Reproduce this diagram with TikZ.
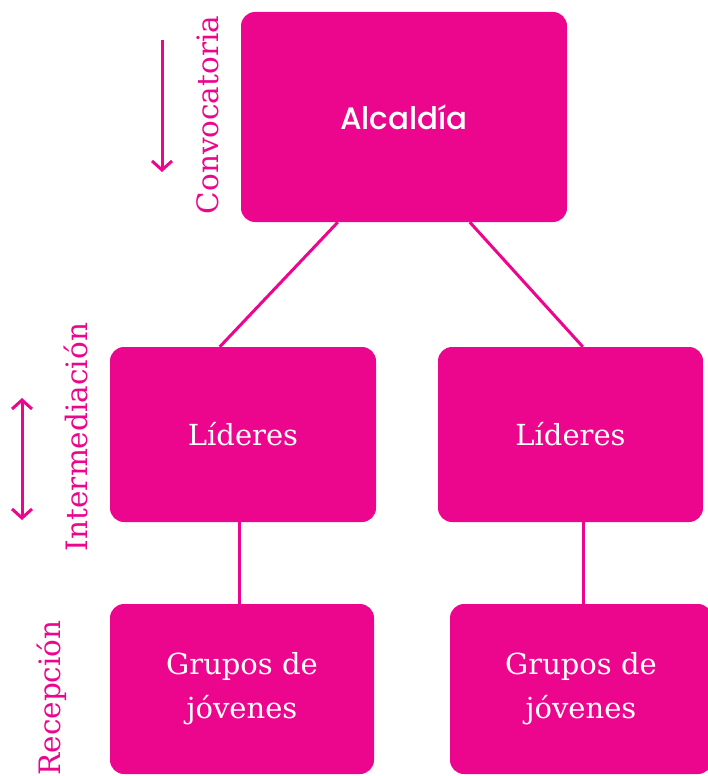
\documentclass[tikz,border=0pt]{standalone}
\usepackage{fontspec}
\setmainfont{DejaVu Serif}
\newfontfamily\alcfont{Poppins Medium}
\usetikzlibrary{arrows.meta}
\definecolor{mag}{HTML}{EC068D}
\begin{document}
\begin{tikzpicture}[x=1pt,y=-1pt,
  box/.style={rectangle, rounded corners=14pt, fill=mag, text=white, inner sep=0pt, align=center},
  conn/.style={draw=mag, line width=3pt},
  sidelabel/.style={rotate=90, text=mag, font=\fontsize{29.5}{34}\selectfont, inner sep=0pt},
  sidearrow/.style={draw=mag, line width=3pt, arrows={-Straight Barb[length=9pt,width=20pt,line width=3pt]}},
  boxtext/.style={font=\fontsize{29}{44}\selectfont}]
\useasboundingbox (0,0) rectangle (707,776);
\node[box, minimum width=326pt, minimum height=210pt, font=\alcfont\fontsize{31}{34}\selectfont] (A) at (404,117) {Alcaldía};
\node[box, minimum width=266pt, minimum height=175pt, boxtext] (L1) at (243,434.5) {Líderes};
\node[box, minimum width=265pt, minimum height=175pt, boxtext] (L2) at (570.5,434.5) {Líderes};
\node[box, minimum width=264pt, minimum height=170pt, boxtext] (G1) at (242,689) {Grupos de\\jóvenes};
\node[box, minimum width=262pt, minimum height=170pt, boxtext] (G2) at (581,689) {Grupos de\\jóvenes};
\draw[conn] ([xshift=97pt]A.south west) -- ([xshift=110pt]L1.north west);
\draw[conn] ([xshift=229pt]A.south west) -- ([xshift=145pt]L2.north west);
\draw[conn] ([xshift=-4pt]L1.south) -- ([xshift=-3pt]G1.north);
\draw[conn] ([xshift=12.5pt]L2.south) -- ([xshift=2pt]G2.north);
\node[sidelabel] (c) at (208,115) {Convocatoria};
\node[sidelabel] (i) at (76,437) {Intermediación};
\node[sidelabel] (r) at (52,698) {Recepción};
\coordinate (ca1) at (162,40);
\coordinate (ca2) at (162,172);
\draw[sidearrow] (ca1) -- (ca2);
\coordinate (ia1) at (22,398);
\coordinate (ia2) at (22,520);
\draw[sidearrow, arrows={Straight Barb[length=9pt,width=20pt,line width=3pt]-Straight Barb[length=9pt,width=20pt,line width=3pt]}] (ia1) -- (ia2);
\end{tikzpicture}
\end{document}
